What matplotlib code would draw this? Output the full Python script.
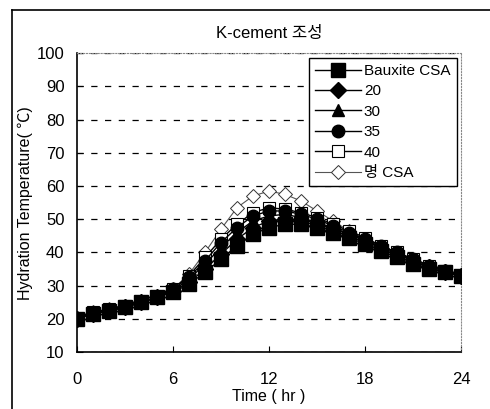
import matplotlib
matplotlib.use("Agg")
import matplotlib.pyplot as plt
from matplotlib.lines import Line2D

plt.rcParams['font.family'] = ['Liberation Sans', 'Noto Sans CJK KR', 'DejaVu Sans']

# data
hours = list(range(25))
bauxite = [20, 21.5, 22.5, 23.5, 25, 26.5, 28, 30.5, 34, 38, 42, 45.5, 47.5, 48.5, 48.5,
           47.5, 46, 44.5, 42.5, 40.5, 38.5, 36.5, 35, 34, 33]
s20 = [20, 21.5, 22.5, 23.5, 25, 26.5, 28.5, 31, 35, 39.5, 44, 47.5, 49.5, 50, 49.5,
       48, 46.5, 45, 43, 41, 39, 37, 35.5, 34, 33]
s30 = [20, 21.5, 22.5, 23.5, 25, 26.5, 28.5, 32, 36.5, 41.5, 46, 49.5, 51, 51.5, 50.5,
       49, 47.5, 45.5, 43.5, 41.5, 39.5, 37.5, 35.5, 34, 33]
s35 = [20, 21.5, 22.5, 23.5, 25, 26.5, 29, 32.5, 37.5, 43, 47.5, 51, 52.5, 52.5, 51.5,
       50, 48, 46, 44, 42, 40, 38, 36, 34.5, 33]
s40 = [20, 22, 23, 24, 25, 26.5, 29, 33, 38.5, 44, 48.5, 52, 53.5, 53, 52,
       50.5, 48.5, 46.5, 44.5, 42, 40, 38, 36, 34.5, 33]
myeong = [20, 22, 23, 24, 25, 26.5, 29, 33.5, 40, 47, 53.5, 57, 58.5, 57.5, 55.5,
          52.5, 49.5, 46.5, 44, 41.5, 39.5, 37.5, 35.5, 34, 33]
labels = ['Bauxite CSA', '20', '30', '35', '40', '명 CSA']
xticks = [0, 6, 12, 18, 24]
yticks = list(range(10, 101, 10))

fig = plt.figure(figsize=(4.9, 4.09), dpi=100)
ax = fig.add_axes([0.157, 0.139, 0.784, 0.731])

# first series is drawn on top, as in the original
ax.plot(hours, bauxite, color='black', lw=1, marker='s', ms=9.5, mfc='black', mec='black',
        label=labels[0], zorder=8)
ax.plot(hours, s20, color='black', lw=1, marker='D', ms=8, mfc='black', mec='black',
        label=labels[1], zorder=7)
ax.plot(hours, s30, color='black', lw=1, marker='^', ms=9, mfc='black', mec='black',
        label=labels[2], zorder=6)
ax.plot(hours, s35, color='black', lw=1, marker='o', ms=9, mfc='black', mec='black',
        label=labels[3], zorder=5)
ax.plot(hours, s40, color='black', lw=1, marker='s', ms=8.5, mfc='white', mec='black', mew=0.8,
        label=labels[4], zorder=4)
ax.plot(hours, myeong, color='#555555', lw=0.8, marker='D', ms=7, mfc='white', mec='#333333', mew=0.7,
        label=labels[5], zorder=3)

ax.set_xlim(0, 24)
ax.set_ylim(10, 100)
ax.set_xticks(xticks)
ax.set_yticks(yticks)
ax.tick_params(direction='in', length=4, labelsize=12)
ax.tick_params(axis='x', pad=14)
ax.tick_params(axis='y', pad=9)
ax.yaxis.grid(True, linestyle=(0, (5, 6)), color='black', lw=0.9)
ax.set_axisbelow(True)
for s in ['top', 'right']:
    ax.spines[s].set_color('#888888')
    ax.spines[s].set_linestyle(':')
ax.spines['left'].set_linewidth(1.2)
ax.spines['bottom'].set_linewidth(1.2)

ax.set_title('K-cement 조성', fontsize=12, pad=11)
ax.set_xlabel('Time ( hr )', fontsize=11.5, labelpad=2)
ax.set_ylabel('Hydration Temperature( ℃)', fontsize=11.5, labelpad=3)

leg = ax.legend(loc='upper right', fontsize=11, handlelength=3.0, handletextpad=0.2,
                labelspacing=0.42, borderpad=0.4, fancybox=False, framealpha=1,
                edgecolor='black', borderaxespad=0.3)
leg.get_frame().set_linewidth(1.0)

# figure border (left and top only)
fig.add_artist(Line2D([0.025, 0.025], [0, 0.975], color='black', lw=1.2))
fig.add_artist(Line2D([0.025, 1.0], [0.975, 0.975], color='black', lw=1.2))

fig.savefig('out.png', dpi=100)
